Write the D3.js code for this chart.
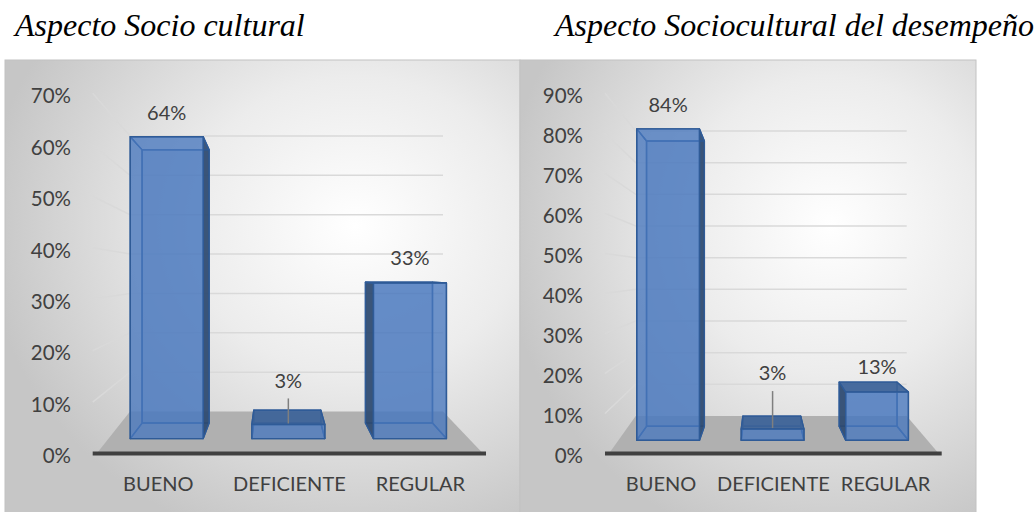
<!DOCTYPE html>
<html>
<head>
<meta charset="utf-8">
<script src="https://cdn.jsdelivr.net/npm/d3@7"></script>
<style>
  body { margin: 0; background: #fff; }
  svg { display: block; }
</style>
</head>
<body>
<div id="chart"></div>
<script>
// Data
const categories = ["BUENO", "DEFICIENTE", "REGULAR"];
const socioValues = [0.64, 0.03, 0.33];
const desempenoValues = [0.84, 0.03, 0.13];
const socioTicks = [0, 0.1, 0.2, 0.3, 0.4, 0.5, 0.6, 0.7];
const desempenoTicks = [0, 0.1, 0.2, 0.3, 0.4, 0.5, 0.6, 0.7, 0.8, 0.9];
const titles = ["Aspecto Socio cultural", "Aspecto Sociocultural del desempeño"];

const width = 1034, height = 512;
const fontSans = "Lato, 'Open Sans', sans-serif";
const textColor = "#404040";

const svg = d3.select("#chart")
  .append("svg")
  .attr("width", width)
  .attr("height", height);

// Layout of the two panels (front plane = axis plane, back = wall)
const panels = [
  {
    title: titles[0], titleX: 15, values: socioValues, ticks: socioTicks,
    box: { x: 5, y: 60, w: 515, h: 460 },
    front: { x0: 92.7, x1: 486, y0: 453.5, yTop: 93.3 },
    back: { x0: 130, x1: 443, y0: 411.5, yTop: 136 },
    tickX: 71, labelLift: [24, 44, 25]
  },
  {
    title: titles[1], titleX: 555, values: desempenoValues, ticks: desempenoTicks,
    box: { x: 520, y: 60, w: 456, h: 460 },
    front: { x0: 605, x1: 941.7, y0: 453.5, yTop: 93.3 },
    back: { x0: 635.7, x1: 906.7, y0: 416, yTop: 131 },
    tickX: 583, labelLift: [24, 56, 25]
  }
];

// depth of the bars between front plane (0) and back wall (1)
const T1 = 0.355, T2 = 0.725;

const band = d3.scaleBand()
  .domain(categories)
  .range([0, 1])
  .paddingInner(0.4)
  .paddingOuter(0.2);

const fmt = d3.format(".0%");
const defs = svg.append("defs");

panels.forEach((p, pi) => {
  const max = p.ticks[p.ticks.length - 1];
  const yFront = d3.scaleLinear().domain([0, max]).range([p.front.y0, p.front.yTop]);
  const yBack = d3.scaleLinear().domain([0, max]).range([p.back.y0, p.back.yTop]);
  const xFront = d3.scaleLinear().domain([0, 1]).range([p.front.x0, p.front.x1]);
  const xBack = d3.scaleLinear().domain([0, 1]).range([p.back.x0, p.back.x1]);

  // project (u across, value, depth t)
  const proj = (u, v, t) => {
    const xf = xFront(u), yf = yFront(v), xb = xBack(u), yb = yBack(v);
    return [xf + t * (xb - xf), yf + t * (yb - yf)];
  };

  // Background panel
  const grad = defs.append("radialGradient")
    .attr("id", "bg" + pi)
    .attr("cx", 0.68).attr("cy", 0.36).attr("r", 0.72);
  grad.append("stop").attr("offset", 0).attr("stop-color", "#ffffff");
  grad.append("stop").attr("offset", 0.45).attr("stop-color", "#ececec");
  grad.append("stop").attr("offset", 1).attr("stop-color", "#c6c6c6");

  const g = svg.append("g");

  g.append("rect")
    .attr("x", p.box.x).attr("y", p.box.y)
    .attr("width", p.box.w).attr("height", p.box.h)
    .attr("fill", `url(#bg${pi})`)
    .attr("stroke", "#c2c2c2")
    .attr("stroke-width", 1);

  // Title
  svg.append("text")
    .attr("x", p.titleX)
    .attr("y", 36)
    .style("font-family", "'Liberation Serif', 'Times New Roman', serif")
    .style("font-style", "italic")
    .style("font-size", "32px")
    .style("fill", "#000")
    .text(p.title);

  // Side wall + back wall gridlines
  g.selectAll(".grid")
    .data(p.ticks.filter(d => d > 0))
    .enter()
    .append("polyline")
    .attr("class", "grid")
    .attr("points", d => [
      [xFront(0), yFront(d)],
      [xBack(0), yBack(d)],
      [xBack(1), yBack(d)]
    ].join(" "))
    .attr("fill", "none")
    .attr("stroke", "#d9d9d9")
    .attr("stroke-width", 1.5);

  // Floor
  g.append("polygon")
    .attr("points", [
      [xBack(0), yBack(0)],
      [xBack(1), yBack(0)],
      [xFront(1) - 3, yFront(0)],
      [xFront(0) + 4, yFront(0)]
    ].join(" "))
    .attr("fill", "#b0b0b0");

  // Bars
  categories.forEach((cat, i) => {
    const v = p.values[i];
    const u0 = band(cat), u1 = u0 + band.bandwidth();
    const f = [proj(u0, 0, T1), proj(u1, 0, T1), proj(u1, v, T1), proj(u0, v, T1)];
    const b = [proj(u0, 0, T2), proj(u1, 0, T2), proj(u1, v, T2), proj(u0, v, T2)];
    const bar = g.append("g").attr("class", "bar");

    const face = (pts, fill, op) => bar.append("polygon")
      .attr("points", pts.join(" "))
      .attr("fill", fill)
      .attr("fill-opacity", op)
      .attr("stroke", "#2f5b97")
      .attr("stroke-width", 1.4)
      .attr("stroke-linejoin", "round");

    face(b, "#4a79be", 0.25);                 // back
    face([f[0], f[1], b[1], b[0]], "none", 0); // bottom
    const leftVis = b[0][0] < f[0][0];
    const rightVis = b[1][0] > f[1][0];
    const topVis = b[3][1] < f[3][1];
    face([f[0], f[3], b[3], b[0]], leftVis ? "#2e4a70" : "none", leftVis ? 0.92 : 0);
    face([f[1], f[2], b[2], b[1]], rightVis ? "#2e4a70" : "none", rightVis ? 0.92 : 0);
    face([f[3], f[2], b[2], b[3]], topVis ? "#3d6398" : "none", topVis ? 0.92 : 0);
    face(f, "#4877be", 0.78);                 // front

    // data label
    const cx = (f[2][0] + f[3][0]) / 2;
    const ly = f[3][1] - p.labelLift[i];
    bar.append("text")
      .attr("x", cx)
      .attr("y", ly)
      .attr("dy", "0.36em")
      .attr("text-anchor", "middle")
      .style("font-family", fontSans)
      .style("font-size", "20px")
      .style("fill", textColor)
      .text(fmt(v));

    if (p.labelLift[i] > 35) {
      bar.append("line")
        .attr("x1", cx).attr("x2", cx)
        .attr("y1", ly + 18).attr("y2", f[3][1] - 1)
        .attr("stroke", "#7f7f7f")
        .attr("stroke-width", 1.5);
    }
  });

  // Front axis line
  g.append("line")
    .attr("x1", xFront(0)).attr("x2", xFront(1))
    .attr("y1", yFront(0)).attr("y2", yFront(0))
    .attr("stroke", "#404040")
    .attr("stroke-width", 4);

  // Tick labels
  g.selectAll(".tick-label")
    .data(p.ticks)
    .enter()
    .append("text")
    .attr("class", "tick-label")
    .attr("x", p.tickX)
    .attr("y", d => yFront(d) + 2.5)
    .attr("dy", "0.36em")
    .attr("text-anchor", "end")
    .style("font-family", fontSans)
    .style("font-size", "20.5px")
    .style("fill", textColor)
    .text(d => fmt(d));

  // Category labels
  g.selectAll(".cat-label")
    .data(categories)
    .enter()
    .append("text")
    .attr("class", "cat-label")
    .attr("x", d => xFront(band(d) + band.bandwidth() / 2))
    .attr("y", 491)
    .attr("text-anchor", "middle")
    .style("font-family", fontSans)
    .style("font-size", "20px")
    .style("fill", textColor)
    .text(d => d);
});
</script>
</body>
</html>
